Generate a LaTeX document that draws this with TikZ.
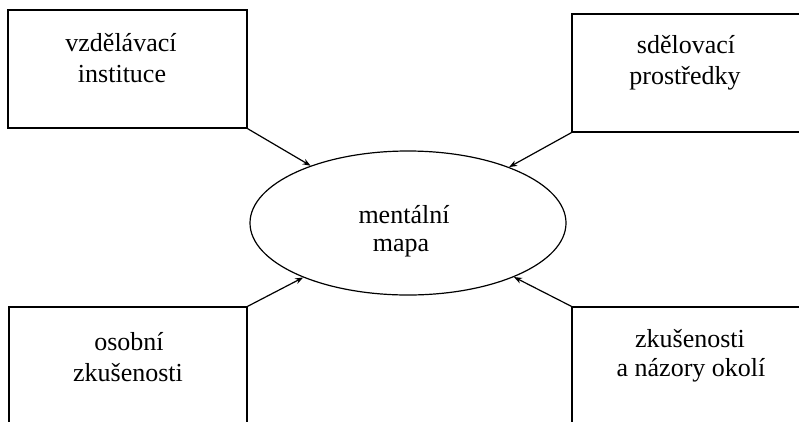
\documentclass[tikz,border=0pt]{standalone}
\usepackage{fontspec}
\setmainfont{Liberation Serif}
\usetikzlibrary{shapes.geometric,arrows.meta}
\tikzset{
  box/.style={draw, rectangle, line width=1.4pt, inner sep=0pt},
  oval/.style={draw, ellipse, line width=1.2pt, inner sep=0pt, minimum width=316pt, minimum height=144pt},
  txt/.style={anchor=base, inner sep=0pt, font=\fontsize{26}{30}\selectfont},
  conn/.style={line width=1.2pt, -{Stealth[length=8pt,width=6pt]}}
}
\begin{document}
\begin{tikzpicture}[x=1pt,y=-1pt]
\useasboundingbox (0,0) rectangle (799,421);
\clip (0,0) rectangle (799,421);
% boxes
\node[box, minimum width=239pt, minimum height=118pt] (tl) at (127.5,69) {};
\node[box, minimum width=250pt, minimum height=118pt] (tr) at (697,73) {};
\node[box, minimum width=238pt, minimum height=140pt] (bl) at (128,377) {};
\node[box, minimum width=250pt, minimum height=140pt] (br) at (697,377) {};
% ellipse
\node[oval] (mm) at (408,223) {};
% texts
\node[txt] (tl1) at (121,51) {vzdělávací};
\node[txt] (tl2) at (122,82) {instituce};
\node[txt] (tr1) at (686,53) {sdělovací};
\node[txt] (tr2) at (685,84) {prostředky};
\node[txt] (bl1) at (129,350) {osobní};
\node[txt] (bl2) at (128,381) {zkušenosti};
\node[txt] (br1) at (690,347) {zkušenosti};
\node[txt] (br2) at (691,376) {a názory okolí};
\node[txt] (mm1) at (404,223) {mentální};
\node[txt] (mm2) at (401,251) {mapa};
% connectors
\draw[conn] (tl.south east) -- (mm);
\draw[conn] (tr.south west) -- (mm);
\draw[conn] (bl.north east) -- (mm);
\draw[conn] (br.north west) -- (mm);
\end{tikzpicture}
\end{document}
